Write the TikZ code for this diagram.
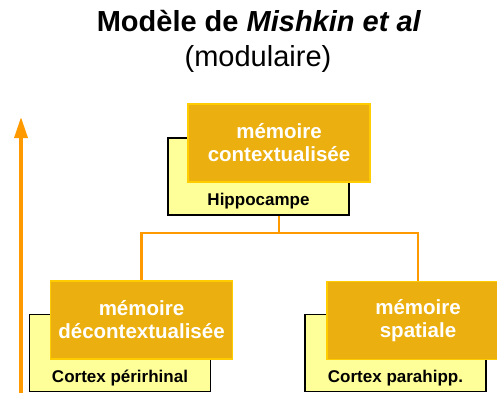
\documentclass[tikz,border=0pt]{standalone}
\usepackage{fontspec}
\setmainfont{Liberation Sans}
\usetikzlibrary{arrows.meta, positioning}
\definecolor{ambre}{RGB}{235,176,16}
\definecolor{bordAmbre}{RGB}{255,204,0}
\definecolor{jaunePale}{RGB}{255,255,153}
\definecolor{orangeLien}{RGB}{255,153,0}
\tikzstyle{zone} = [draw=black, fill=jaunePale, line width=1.5pt, rectangle, minimum width=181pt, minimum height=77pt, inner sep=0pt]
\tikzstyle{memoire} = [draw=bordAmbre, fill=ambre, line width=1.5pt, rectangle, minimum width=182pt, minimum height=78pt, inner sep=0pt, text=white, align=center, font=\fontsize{20.5}{23}\selectfont\bfseries]
\tikzstyle{aire} = [anchor=base, font=\fontsize{17}{20}\selectfont\bfseries]
\tikzstyle{lien} = [draw=orangeLien, line width=2.5pt]
\newcommand{\grand}{\fontsize{29}{33}\selectfont}

\begin{document}
\begin{tikzpicture}[x=1pt, y=-1pt]
      \useasboundingbox (0,0) rectangle (497,392);
      \clip (0,0) rectangle (497,392);
      % titre
      \node[anchor=base, font=\grand\bfseries] (titre) at (259,31) {Modèle de \textit{Mishkin et al}};
      \node[anchor=base, font=\grand] (sousTitre) at (258,66) {(modulaire)};
      % fleche
      \coordinate (flecheBas) at (21,395);
      \coordinate (flecheHaut) at (21,117);
      \draw[orangeLien, line width=3.5pt, -{Triangle[length=21pt, width=13pt]}] (flecheBas) -- (flecheHaut);
      % zones
      \node[zone] (hippoZ) at (258.5,176.5) {};
      \node[zone] (periZ) at (120,353) {};
      \node[zone] (paraZ) at (395.5,353) {};
      \node[aire] (hippo) at ([yshift=10pt]hippoZ.south) {Hippocampe};
      \node[aire] (peri) at ([yshift=10pt]periZ.south) {Cortex périrhinal};
      \node[aire] (para) at ([yshift=10pt]paraZ.south) {Cortex parahipp.};
      % memoires
      \node[memoire] (ctx) at (279,143) {mémoire\\contextualisée};
      \node[memoire] (dectx) at (141.5,320) {mémoire\\décontextualisée};
      \node[memoire] (spat) at (418,320.5) {mémoire\\spatiale};
      \coordinate (noeud) at (ctx |- hippoZ.south);
      \draw[lien] (noeud) -- ++(0,17) -| (dectx.north);
      \draw[lien] (noeud) -- ++(0,17) -| (spat.north);
    \end{tikzpicture}
\end{document}
